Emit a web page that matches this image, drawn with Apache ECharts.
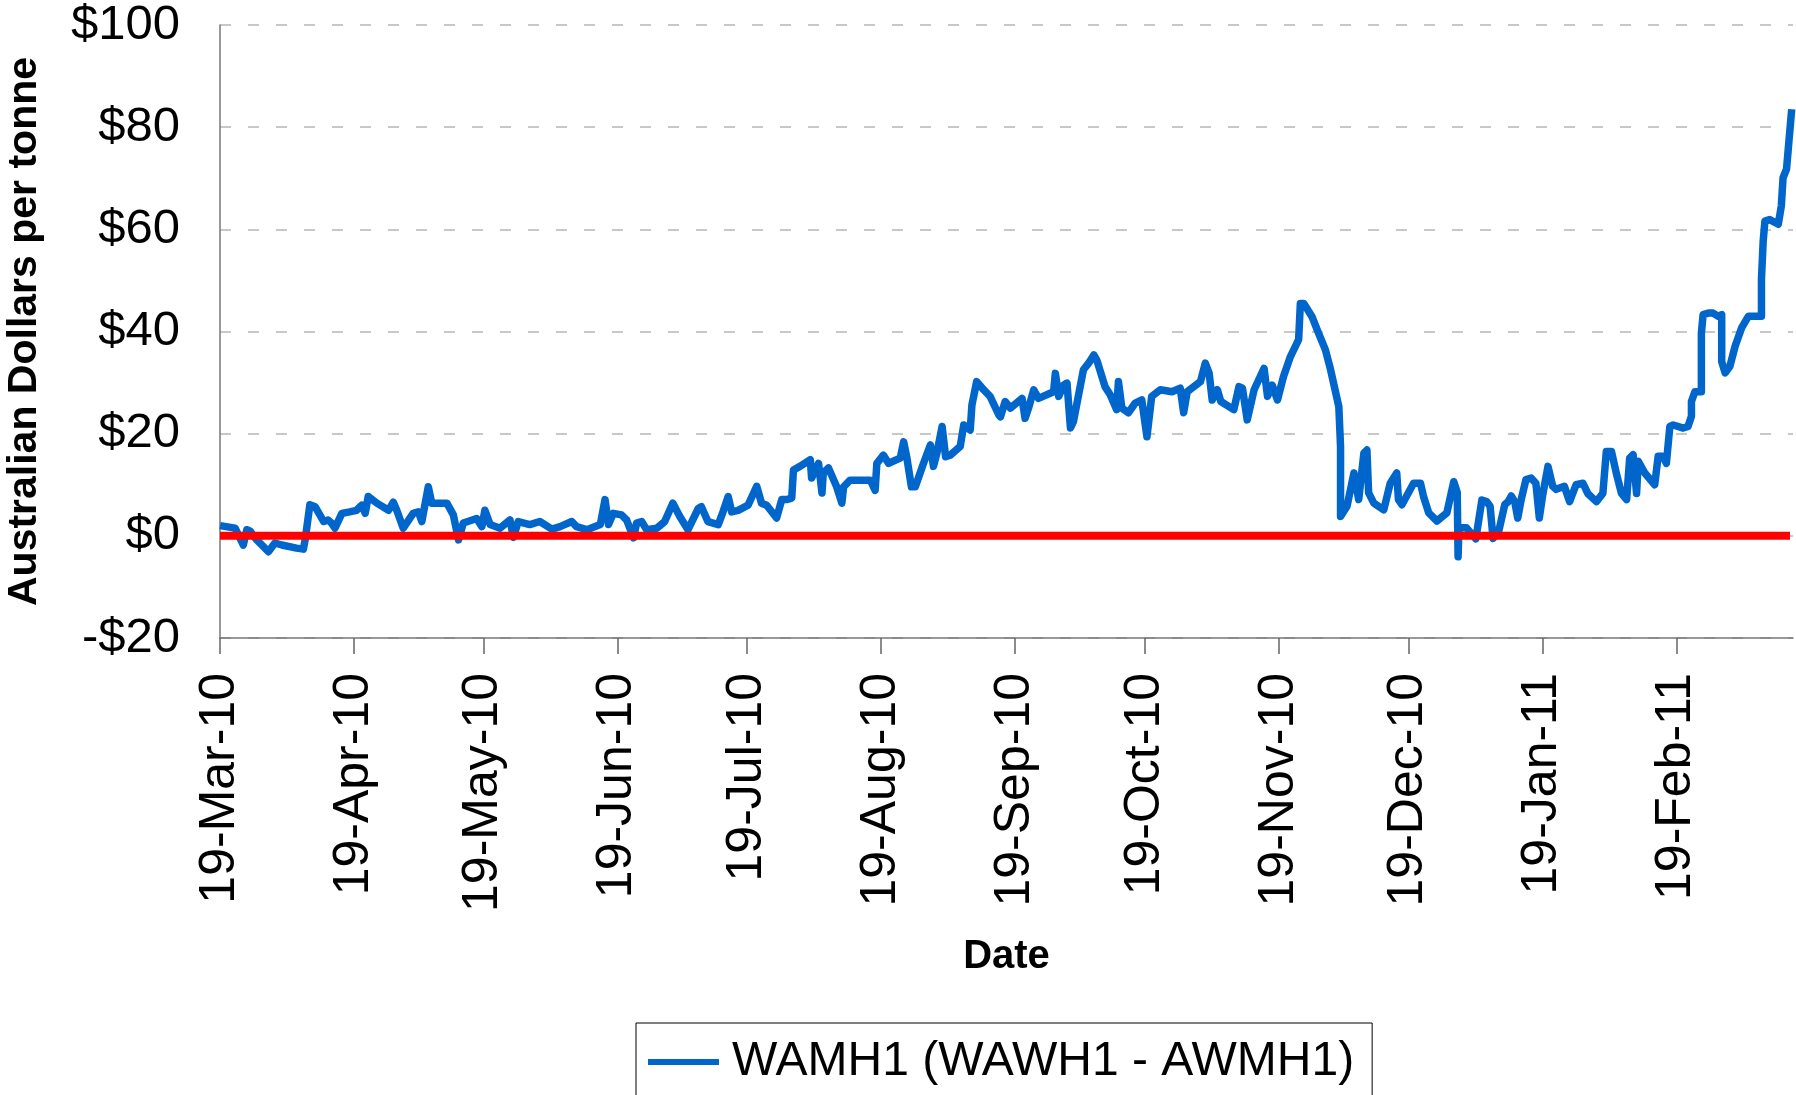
<!DOCTYPE html>
<html>
<head>
<meta charset="utf-8">
<script src="https://cdn.jsdelivr.net/npm/echarts@6/dist/echarts.min.js"></script>
<style>
html,body{margin:0;padding:0;background:#fff;}
#chart{width:1796px;height:1095px;}
</style>
</head>
<body>
<div id="chart"></div>
<script>
// Days since 19-Mar-2010 and spread values (A$/t)
var dayOffsets = [
0,3.5,5.4,6.2,7,8.5,11.2,12.7,14.3,17.7,19.3,19.7,20.8,22,24,25,25.8,26.6,28.2,30,31.6,32.8,33.6,34.3,36.3,39,40.1,40.9,42.4,44.7,45.9,46.7,48.2,49,52.5,54,55.2,56.3,59.4,60.6,61.3,62.5,64.8,67.1,
67.9,69,71.7,74,76.8,78.7,81.4,82.5,84.9,88,89.1,89.9,91,92.9,94.1,95.7,96.4,97.6,98.7,101.1,102.9,104.8,106.4,108.3,110.7,111.4,112.9,115.3,116.4,117.6,118.4,119.9,122.2,124.2,125.3,126.5,128.8,130,131.1,132.3,132.7,134.2,136.6,
136.9,138.5,139.3,139.6,140.8,142.7,143.9,144.3,145.8,150.5,151.6,152,153.5,154.7,157.4,158.2,158.9,160,160.9,162.8,164.4,165.1,165.9,167.1,167.9,169,171.3,172.1,173.6,174,175.1,176.7,178.2,180.2,
180.6,181.7,182.9,185.6,186.3,187.1,188.3,189.4,192.9,193.3,194.1,195.2,196,196.8,197.5,199.8,201,202.2,202.9,204.8,206,207.5,207.9,208.7,210.2,211.8,213.3,214.5,215.6,217.6,220.3,222.2,223,223.8,226.9,228,228.9,229.6,230.8,231.6,234.6,235.8,236.6,237.7,239.3,241.6,242.4,243.5,244.7,246.1,247.7,249.6,250,250.8,252.7,253.9,255.8,257,258.9,259.3,259.3,
260.8,262.4,263.5,264.7,265.4,265.8,267,269.3,270.8,272.3,272.7,273.5,276.2,277.8,278.5,279.7,281.6,283.9,285.5,286.3,286.5,286.7,288.4,290.6,292,293.1,293.9,294.6,295.8,
297.3,298.1,298.8,299.6,300.3,301.1,302.2,303.4,304.5,305.3,306.1,307.3,308.4,309.2,311.1,312.3,313.8,315.4,316.5,318.5,320,320.8,322,323.1,324.3,325.5,326.2,327,327.8,328.2,329.7,332,332.8,333.9,334.7,335.5,336.3,338.6,339.7,340.5,340.5,341.3,342.8,342.8,343.2,344.4,345.5,346.7,347.5,347.5,348.3,349.4,350.6,352.1,353.7,356.7,356.7,357.1,357.5,358.6,360.6,361.3,361.7,362.5,362.9,363.7
];
var spread = [
2.0,1.5,-1.8,1.2,0.9,-0.8,-3.1,-1.4,-1.8,-2.4,-2.6,-0.8,6.1,5.7,2.8,3.1,2.5,1.5,4.4,4.7,5.0,6.0,4.4,7.7,6.4,5.0,6.6,5.0,1.5,4.4,4.7,2.8,9.6,6.4,6.4,4.1,-0.8,2.5,3.4,1.8,5.0,2.2,1.5,3.1,
-0.3,2.8,2.2,2.8,1.3,1.8,2.8,1.8,1.2,2.2,7.1,2.2,4.4,4.1,3.1,-0.4,2.5,2.8,1.2,1.5,2.8,6.4,3.8,1.2,5.4,5.7,2.8,2.2,4.7,7.7,4.7,5.0,6.0,9.7,6.4,6.0,3.5,7.1,7.1,7.4,12.9,13.6,14.9,
11.3,14.2,8.4,12.3,13.3,9.6,6.4,9.6,10.9,10.9,8.9,14.2,15.8,14.2,15.2,18.4,15.5,9.6,9.6,14.2,17.8,13.6,16.2,21.4,15.5,15.8,17.5,21.7,20.7,25.6,30.2,28.6,27.3,23.7,
23.3,26.3,25.0,26.9,23.0,25.0,28.6,26.9,28.2,31.8,27.3,29.5,29.9,21.1,22.4,32.5,33.8,35.4,34.4,29.2,27.6,24.7,30.2,25.0,24.1,26.0,26.6,19.4,27.3,28.6,28.2,28.9,24.1,28.2,30.2,33.8,31.8,26.6,28.6,26.3,24.7,29.2,28.9,22.7,28.6,32.8,27.3,29.5,26.6,31.2,35.1,38.4,45.5,45.5,42.9,40.3,36.4,32.5,25.3,17.5,3.8,
5.8,12.3,7.1,16.2,16.8,8.4,6.4,5.1,10.3,12.3,7.1,6.1,10.3,10.3,7.7,4.5,2.9,4.5,10.6,8.5,-4.1,1.6,1.6,-0.6,7.0,6.7,5.8,-0.5,0.5,
6.1,6.7,7.8,6.7,3.5,7.1,11.0,11.3,10.3,3.5,8.1,13.6,9.7,9.1,9.7,6.7,10.0,10.3,8.3,6.7,8.3,16.5,16.5,12.3,8.3,7.1,15.2,15.9,8.3,14.6,12.3,10.0,15.6,15.6,14.2,21.4,21.7,21.1,21.4,23.4,26.3,28.2,28.2,39.7,43.3,43.6,43.6,43.0,43.3,34.1,31.9,33.2,37.1,40.7,43.0,43.0,50.2,57.7,61.6,61.9,61.0,64.6,70.1,71.8,75.7,83.5
];
// Zero reference line
var zeroDays = [0, 363.3];
var zeroValues = [0, 0];
// X axis ticks (days since 19-Mar-2010) and their labels
var xTickDays = [0,31,61,92,122,153,184,214,245,275,306,337];
var xTickLabels = ['19-Mar-10','19-Apr-10','19-May-10','19-Jun-10','19-Jul-10','19-Aug-10','19-Sep-10','19-Oct-10','19-Nov-10','19-Dec-10','19-Jan-11','19-Feb-11'];
var seriesName = 'WAMH1 (WAWH1 - AWMH1)';

var FONT = "'Liberation Sans', Arial, Helvetica, sans-serif";
var mainData = dayOffsets.map(function(d, i){ return [d, spread[i]]; });
var zeroData = zeroDays.map(function(d, i){ return [d, zeroValues[i]]; });

var chart = echarts.init(document.getElementById('chart'), null, {renderer:'canvas'});
chart.setOption({
  animation: false,
  backgroundColor: '#ffffff',
  textStyle: {fontFamily: FONT},
  grid: {left: 220, right: 3, top: 25, bottom: 457, containLabel: false, outerBoundsMode: 'none'},
  legend: {
    data: [seriesName],
    left: 636, top: 1023,
    orient: 'horizontal',
    icon: 'rect',
    itemWidth: 71, itemHeight: 6,
    padding: [11, 18, 60, 12],
    borderColor: '#000000', borderWidth: 1,
    backgroundColor: '#ffffff',
    textStyle: {fontFamily: FONT, fontSize: 48, color: '#000', lineHeight: 56, padding: [0, 0, 0, 8]}
  },
  xAxis: {
    type: 'value',
    min: 0, max: 364,
    name: 'Date',
    nameLocation: 'middle',
    nameGap: 299,
    nameTextStyle: {fontFamily: FONT, fontSize: 40, fontWeight: 'bold', color: '#000'},
    axisLine: {show: true, onZero: false, lineStyle: {color: '#777', width: 1.5}},
    axisTick: {show: true, inside: false, length: 16, customValues: xTickDays, lineStyle: {color: '#666', width: 1.5}},
    axisLabel: {
      show: true, rotate: 90, margin: 35,
      customValues: xTickDays,
      fontFamily: FONT, fontSize: 50, color: '#000',
      formatter: function(v){
        var i = xTickDays.indexOf(Math.round(v));
        return i >= 0 ? xTickLabels[i] : '';
      }
    },
    splitLine: {show: false}
  },
  yAxis: {
    type: 'value',
    min: -20, max: 100, interval: 20,
    name: 'Australian Dollars per tonne',
    nameLocation: 'middle',
    nameGap: 175,
    nameTextStyle: {fontFamily: FONT, fontSize: 41, fontWeight: 'bold', color: '#000'},
    axisLine: {show: true, lineStyle: {color: '#777', width: 1.5}},
    axisTick: {show: false},
    axisLabel: {
      margin: 40, fontFamily: FONT, fontSize: 49, color: '#000',
      formatter: function(v){ return v < 0 ? '-$' + Math.abs(v) : '$' + v; }
    },
    splitLine: {show: true, lineStyle: {color: '#C8C8C8', width: 2, type: [11, 17]}}
  },
  series: [
    {
      name: seriesName,
      type: 'line',
      data: mainData,
      showSymbol: false,
      symbol: 'none',
      lineStyle: {color: '#0066CC', width: 7.5, join: 'round'},
      itemStyle: {color: '#0066CC'},
      z: 2
    },
    {
      name: 'zero',
      type: 'line',
      data: zeroData,
      showSymbol: false,
      symbol: 'none',
      lineStyle: {color: '#FF0000', width: 8},
      itemStyle: {color: '#FF0000'},
      z: 3
    }
  ]
});
</script>
</body>
</html>
